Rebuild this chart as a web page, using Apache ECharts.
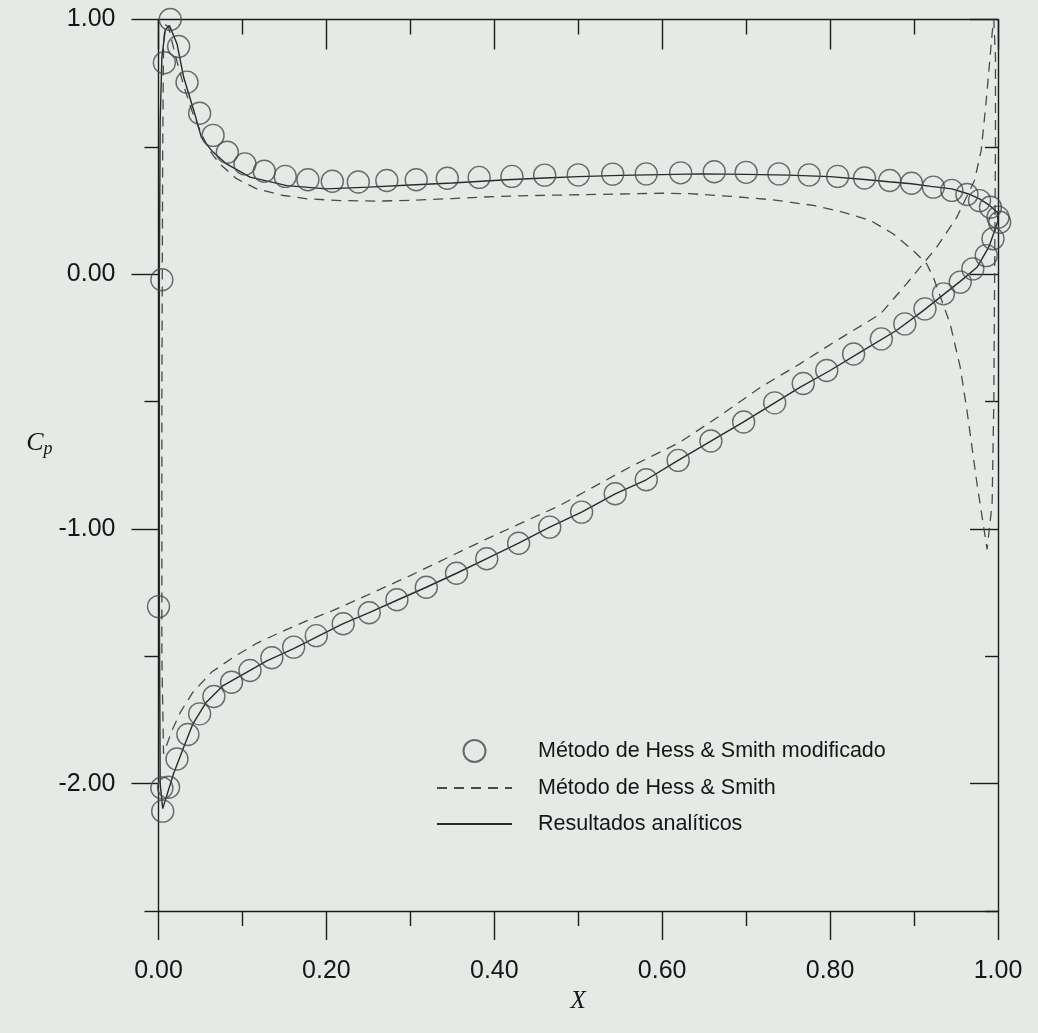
<!DOCTYPE html>
<html>
<head>
<meta charset="utf-8">
<script src="https://cdn.jsdelivr.net/npm/echarts@6/dist/echarts.min.js"></script>
<style>
html,body{margin:0;padding:0;background:#e6eae6;}
#chart{width:1038px;height:1033px;}
</style>
</head>
<body>
<div id="chart"></div>
<script>
// ---- Data ----
// Método de Hess & Smith modificado (circles): X and Cp
const modX = [0.994,0.986,0.970,0.955,0.935,0.913,0.889,0.861,0.828,0.796,0.768,0.734,0.697,0.658,0.619,0.581,0.544,0.504,0.466,0.429,0.391,0.355,0.319,0.284,0.251,0.220,0.188,0.161,0.135,0.109,0.087,0.066,0.049,0.035,0.022,0.012,0.005,0.004,0.000,0.004,
  0.007,0.014,0.024,0.034,0.049,0.065,0.082,0.103,0.126,0.151,0.178,0.207,0.238,0.272,0.307,0.344,0.382,0.421,0.460,0.500,0.541,0.581,0.622,0.662,0.700,0.739,0.775,0.809,0.841,0.871,0.897,0.923,0.945,0.963,0.978,0.991,1.000,1.002];
const modCp = [0.139,0.073,0.021,-0.031,-0.077,-0.136,-0.195,-0.254,-0.313,-0.378,-0.429,-0.505,-0.580,-0.655,-0.731,-0.807,-0.862,-0.934,-0.993,-1.056,-1.117,-1.174,-1.229,-1.278,-1.329,-1.372,-1.419,-1.464,-1.506,-1.556,-1.602,-1.658,-1.726,-1.807,-1.903,-2.014,-2.108,-2.017,-1.305,-0.022,
  0.830,1.000,0.894,0.754,0.632,0.545,0.479,0.433,0.404,0.384,0.371,0.365,0.362,0.368,0.371,0.377,0.380,0.384,0.389,0.390,0.393,0.394,0.398,0.402,0.400,0.394,0.390,0.384,0.378,0.368,0.357,0.342,0.329,0.313,0.289,0.263,0.224,0.204];

// Método de Hess & Smith (dashed)
const hsX = [0.008,0.012,0.020,0.030,0.040,0.050,0.060,0.073,0.093,0.117,0.149,0.177,0.216,0.260,0.300,0.350,0.400,0.450,0.500,0.550,0.600,0.633,0.685,0.732,0.780,0.816,0.848,0.875,0.899,0.915,0.923,0.943,0.955,0.963,0.975,0.987,
  0.993,0.995,0.996,0.997,0.997,0.995,
  0.993,0.986,0.980,0.972,0.951,0.927,0.891,0.860,0.808,0.764,0.717,0.670,0.621,0.561,0.478,0.391,0.300,0.248,0.208,0.177,0.145,0.117,0.089,0.063,0.041,0.026,0.016,0.006,
  0.004,0.004,0.005,0.006,0.008];
const hsCp = [0.980,0.970,0.860,0.740,0.640,0.560,0.490,0.433,0.375,0.335,0.309,0.296,0.289,0.287,0.290,0.297,0.305,0.309,0.312,0.315,0.318,0.316,0.305,0.292,0.270,0.243,0.211,0.159,0.093,0.041,-0.012,-0.195,-0.365,-0.535,-0.823,-1.080,
  -0.900,-0.500,0.000,0.500,0.850,1.000,
  0.945,0.682,0.486,0.368,0.224,0.106,-0.038,-0.156,-0.260,-0.352,-0.444,-0.553,-0.660,-0.758,-0.908,-1.039,-1.183,-1.261,-1.320,-1.360,-1.406,-1.449,-1.504,-1.563,-1.641,-1.720,-1.792,-1.883,
  -1.500,-0.500,0.500,0.900,0.980];

// Resultados analíticos (solid)
const anaX = [1.000,0.996,0.989,0.975,0.955,0.935,0.911,0.879,0.839,0.800,0.764,0.734,0.697,0.658,0.619,0.581,0.544,0.504,0.466,0.429,0.391,0.355,0.319,0.284,0.251,0.220,0.188,0.161,0.129,0.097,0.077,0.057,0.041,0.030,0.018,0.005,0.002,0.001,0.001,0.002,0.004,0.008,0.013,
  0.022,0.030,0.042,0.051,0.063,0.081,0.109,0.153,0.200,0.250,0.300,0.350,0.415,0.460,0.500,0.550,0.600,0.645,0.700,0.750,0.800,0.841,0.870,0.897,0.920,0.945,0.965,0.978,0.990,0.999,1.000];
const anaCp = [0.210,0.171,0.106,0.027,-0.028,-0.080,-0.143,-0.221,-0.300,-0.378,-0.444,-0.505,-0.580,-0.655,-0.731,-0.807,-0.862,-0.934,-0.993,-1.056,-1.117,-1.174,-1.229,-1.280,-1.329,-1.372,-1.425,-1.470,-1.518,-1.578,-1.615,-1.680,-1.765,-1.857,-1.960,-2.098,-2.000,-1.300,0.000,0.600,0.850,0.960,0.976,
  0.905,0.773,0.643,0.538,0.486,0.433,0.381,0.348,0.335,0.342,0.350,0.358,0.371,0.378,0.383,0.388,0.391,0.394,0.392,0.389,0.383,0.372,0.363,0.355,0.345,0.335,0.315,0.296,0.270,0.243,0.210];

// Axis ticks
const yMajor = [-2, -1, 0, 1];
const yMinor = [-2.5, -1.5, -0.5, 0.5];
const seriesNames = ['Método de Hess & Smith modificado', 'Método de Hess & Smith', 'Resultados analíticos'];

const zip = (xs, ys) => xs.map((x, i) => [x, ys[i]]);

const ink = '#1c1c1c';
const axisLine = { show: true, onZero: false, lineStyle: { color: ink, width: 1.4 } };
const labelFont = { fontFamily: 'Liberation Sans, Arial, sans-serif', fontSize: 25, color: '#161616' };

const chart = echarts.init(document.getElementById('chart'), null, { renderer: 'canvas' });
chart.setOption({
  backgroundColor: '#e6eae6',
  animation: false,
  grid: { left: 158.5, right: 40, top: 19.5, bottom: 122, containLabel: false },
  legend: {
    orient: 'vertical', left: 431, top: 734,
    itemWidth: 75, itemHeight: 22, itemGap: 14,
    textStyle: { fontFamily: 'Liberation Sans, Arial, sans-serif', fontSize: 21.5, color: '#161616', padding: [0, 0, 0, 21] },
    data: [
      seriesNames[0],
      { name: seriesNames[1], itemStyle: { opacity: 0 } },
      { name: seriesNames[2], itemStyle: { opacity: 0 } }
    ]
  },
  xAxis: [
    {
      type: 'value', position: 'bottom', min: 0, max: 1, interval: 0.2,
      axisLine: axisLine,
      axisTick: { show: true, inside: false, length: 29, lineStyle: { color: ink, width: 1.4 } },
      minorTick: { show: true, splitNumber: 2, length: 15, lineStyle: { color: ink, width: 1.4 } },
      axisLabel: Object.assign({ margin: 48, formatter: v => v.toFixed(2) }, labelFont),
      splitLine: { show: false },
      name: 'X', nameLocation: 'middle', nameGap: 78,
      nameTextStyle: { fontFamily: 'Liberation Serif, Times New Roman, serif', fontStyle: 'italic', fontSize: 25, color: '#161616' }
    },
    {
      type: 'value', position: 'top', min: 0, max: 1, interval: 0.2,
      axisLine: axisLine,
      axisTick: { show: true, inside: true, length: 30, lineStyle: { color: ink, width: 1.4 } },
      minorTick: { show: true, splitNumber: 2, length: 15, lineStyle: { color: ink, width: 1.4 } },
      axisLabel: { show: false },
      splitLine: { show: false }
    }
  ],
  yAxis: [
    {
      type: 'value', position: 'left', min: -2.5, max: 1,
      axisLine: axisLine,
      axisTick: { show: true, inside: false, length: 27, customValues: yMajor, lineStyle: { color: ink, width: 1.4 } },
      axisLabel: Object.assign({ margin: 43, customValues: yMajor, formatter: v => v.toFixed(2) }, labelFont),
      splitLine: { show: false },
      name: '{c|C}{p|p}', nameLocation: 'middle', nameRotate: 0, nameGap: 93,
      nameTextStyle: {
        padding: [0, 0, 44, 0],
        rich: {
          c: { fontFamily: 'Liberation Serif, Times New Roman, serif', fontStyle: 'italic', fontSize: 26, color: '#161616' },
          p: { fontFamily: 'Liberation Serif, Times New Roman, serif', fontStyle: 'italic', fontSize: 18, color: '#161616', padding: [12, 0, 0, 0] }
        }
      }
    },
    {
      type: 'value', position: 'left', min: -2.5, max: 1,
      axisLine: { show: false, onZero: false },
      axisTick: { show: true, inside: false, length: 14, customValues: yMinor, lineStyle: { color: ink, width: 1.4 } },
      axisLabel: { show: false },
      splitLine: { show: false }
    },
    {
      type: 'value', position: 'right', min: -2.5, max: 1,
      axisLine: axisLine,
      axisTick: { show: true, inside: true, length: 28, customValues: yMajor, lineStyle: { color: ink, width: 1.4 } },
      axisLabel: { show: false },
      splitLine: { show: false }
    },
    {
      type: 'value', position: 'right', min: -2.5, max: 1,
      axisLine: { show: false, onZero: false },
      axisTick: { show: true, inside: true, length: 13, customValues: yMinor, lineStyle: { color: ink, width: 1.4 } },
      axisLabel: { show: false },
      splitLine: { show: false }
    }
  ],
  series: [
    {
      name: seriesNames[0], type: 'scatter', xAxisIndex: 0, yAxisIndex: 0,
      data: zip(modX, modCp), symbol: 'circle', symbolSize: 22, clip: false, z: 4,
      itemStyle: { color: 'rgba(0,0,0,0)', borderColor: '#4a4a4a', borderWidth: 1.4 }
    },
    {
      name: seriesNames[1], type: 'line', xAxisIndex: 0, yAxisIndex: 0,
      data: zip(hsX, hsCp), symbol: 'none', clip: false, z: 3,
      itemStyle: { color: '#4a4a4a' },
      lineStyle: { color: '#4a4a4a', width: 1.3, type: [10, 7] }
    },
    {
      name: seriesNames[2], type: 'line', xAxisIndex: 0, yAxisIndex: 0,
      data: zip(anaX, anaCp), symbol: 'none', clip: false, z: 3,
      itemStyle: { color: '#2a2a2a' },
      lineStyle: { color: '#2a2a2a', width: 1.4, type: 'solid' }
    }
  ]
});
</script>
</body>
</html>
